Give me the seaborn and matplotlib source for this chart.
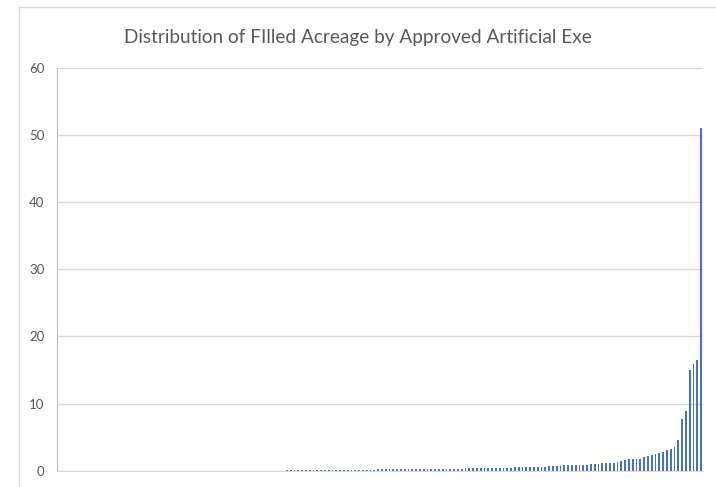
import matplotlib
matplotlib.use("Agg")
import matplotlib.pyplot as plt
from matplotlib.patches import Rectangle
import seaborn as sns
import pandas as pd

# Filled acreage per approved exemption, sorted ascending
acreage = [
    # 0-39: barely visible
    0.01, 0.01, 0.01, 0.01, 0.01, 0.01, 0.01, 0.01, 0.01, 0.01,
    0.01, 0.01, 0.01, 0.01, 0.01, 0.01, 0.01, 0.01, 0.01, 0.01,
    0.01, 0.01, 0.01, 0.01, 0.01, 0.01, 0.01, 0.01, 0.01, 0.01,
    0.01, 0.01, 0.01, 0.01, 0.01, 0.01, 0.01, 0.01, 0.01, 0.01,
    # 40-73
    0.02, 0.02, 0.02, 0.02, 0.02, 0.02, 0.02, 0.02, 0.02, 0.02,
    0.02, 0.02, 0.02, 0.02, 0.02, 0.02, 0.02, 0.02, 0.02, 0.02,
    0.03, 0.03, 0.03, 0.03, 0.03, 0.03, 0.03, 0.03, 0.03, 0.03,
    0.04, 0.04, 0.04, 0.04,
    # 74-94
    0.15, 0.15, 0.15, 0.15, 0.15, 0.16, 0.16, 0.16, 0.16, 0.16,
    0.18, 0.18, 0.18, 0.18, 0.18, 0.2, 0.2, 0.2, 0.2, 0.2, 0.22,
    # 95-107
    0.28, 0.28, 0.28, 0.29, 0.29, 0.3, 0.3, 0.3, 0.31, 0.31, 0.32, 0.32, 0.33,
    # 108-119
    0.4, 0.4, 0.41, 0.41, 0.42, 0.42, 0.43, 0.43, 0.44, 0.44, 0.45, 0.45,
    # 120-132
    0.52, 0.53, 0.54, 0.55, 0.55, 0.6, 0.6, 0.62, 0.62, 0.64, 0.65, 0.66, 0.68,
    # 133-169
    0.8, 0.8, 0.8, 0.8, 0.8, 0.8, 0.8, 0.95, 0.95, 0.95,
    1.1, 1.1, 1.1, 1.19, 1.29, 1.44, 1.54, 1.69, 1.69, 1.78,
    1.78, 1.99, 2.18, 2.37, 2.48, 2.67, 2.82, 3.07, 3.22, 3.47,
    4.55, 7.72, 8.9, 14.94, 15.83, 16.53, 51.0,
]
exemption = list(range(len(acreage)))
y_ticks = [0, 10, 20, 30, 40, 50, 60]

df = pd.DataFrame({"exemption": exemption, "acreage": acreage})

sns.set_style("white")
plt.rcParams["font.family"] = ["Lato", "DejaVu Sans"]

fig = plt.figure(figsize=(7.16, 4.87), dpi=100)
ax = fig.add_axes([57 / 716, 16.3 / 487, 646 / 716, 402.7 / 487])

sns.barplot(data=df, x="exemption", y="acreage", color="#4472C4",
            width=0.5, saturation=1, linewidth=0, ax=ax)
# snap the thin bars to whole pixels so they all look alike
for bar in ax.patches:
    bar.set_antialiased(False)

ax.set_xlim(-0.5, len(acreage) - 0.5)
ax.set_ylim(0, 60)
ax.set_yticks(y_ticks)
ax.set_xticks([])
ax.set_xlabel("")
ax.set_ylabel("")
ax.yaxis.grid(True, color="#D9D9D9", linewidth=1)
ax.set_axisbelow(True)
ax.tick_params(axis="y", length=0, pad=9, labelsize=9.5, labelcolor="#595959")

for side in ["top", "right"]:
    ax.spines[side].set_visible(False)
ax.spines["left"].set_color("#BFBFBF")
ax.spines["bottom"].set_color("#D9D9D9")

# chart-area frame, cut off at right and bottom like the screenshot
fig.patches.append(Rectangle((19 / 716, -0.1), 2, 1.1 - 7 / 487,
                             transform=fig.transFigure, fill=False,
                             edgecolor="#D9D9D9", linewidth=1))

fig.text(0.5, 1 - 37 / 487, "Distribution of FIlled Acreage by Approved Artificial Exe",
         ha="center", va="center", fontsize=13.7, color="#595959")

fig.savefig("out.png", dpi=100)
